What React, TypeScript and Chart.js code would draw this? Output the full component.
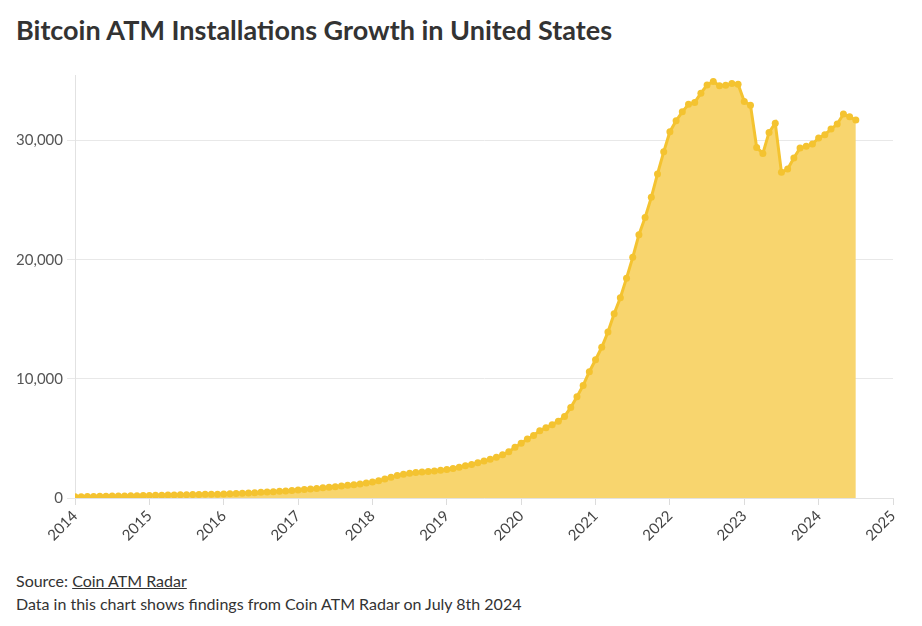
import React, { useEffect, useRef } from "react";
import { Chart, registerables } from "chart.js";

Chart.register(...registerables);

const title = "Bitcoin ATM Installations Growth in United States";
const sourceLabel = "Source: ";
const sourceLink = "Coin ATM Radar";
const note = "Data in this chart shows findings from Coin ATM Radar on July 8th 2024";

// Monthly installed Bitcoin ATMs (Jan..Dec) per year
const y2014 = [100, 110, 120, 130, 140, 150, 160, 165, 175, 185, 195, 205];
const y2015 = [215, 225, 235, 245, 255, 265, 275, 285, 295, 305, 315, 325];
const y2016 = [340, 360, 380, 400, 425, 450, 475, 500, 530, 560, 590, 630];
const y2017 = [680, 720, 760, 800, 850, 900, 950, 1000, 1060, 1120, 1180, 1260];
const y2018 = [1350, 1450, 1600, 1750, 1880, 2000, 2080, 2130, 2180, 2220, 2270, 2320];
const y2019 = [2400, 2480, 2580, 2700, 2820, 2960, 3100, 3250, 3420, 3620, 3880, 4250];
const y2020 = [4600, 4950, 5250, 5650, 5900, 6150, 6450, 6850, 7600, 8500, 9450, 10600];
const y2021 = [11600, 12650, 13930, 15470, 16800, 18450, 20200, 22100, 23550, 25230, 27200, 29050];
const y2022 = [30740, 31660, 32410, 33050, 33200, 33970, 34670, 34950, 34590, 34650, 34780, 34730];
const y2023 = [33270, 32970, 29420, 28920, 30680, 31460, 27330, 27610, 28530, 29370, 29510, 29710];
const y2024 = [30210, 30490, 30960, 31380, 32220, 31990, 31720];

const startYear = 2014;
const yearly = [y2014, y2015, y2016, y2017, y2018, y2019, y2020, y2021, y2022, y2023, y2024];
const xTickYears = [2014, 2015, 2016, 2017, 2018, 2019, 2020, 2021, 2022, 2023, 2024, 2025];
const yTicks = [0, 10000, 20000, 30000];

const FONT = "Lato, 'Open Sans', sans-serif";

export default function App() {
  const ref = useRef<HTMLCanvasElement | null>(null);

  useEffect(() => {
    if (!ref.current) return;
    const points: { x: number; y: number }[] = [];
    yearly.forEach((arr, yi) => {
      arr.forEach((v, m) => points.push({ x: startYear + yi + m / 12, y: v }));
    });
    const chart = new Chart(ref.current, {
      type: "line",
      data: {
        datasets: [
          {
            data: points,
            borderColor: "#F4C330",
            backgroundColor: "#F8D56E",
            pointBackgroundColor: "#F4C330",
            pointBorderColor: "#F4C330",
            pointRadius: 3.5,
            pointBorderWidth: 0,
            borderWidth: 3,
            fill: "origin",
            tension: 0,
          },
        ],
      },
      options: {
        responsive: false,
        animation: false,
        layout: { padding: { left: 0, right: 21, top: 15, bottom: 0 } },
        plugins: { legend: { display: false }, tooltip: { enabled: false } },
        scales: {
          x: {
            type: "linear",
            min: xTickYears[0],
            max: xTickYears[xTickYears.length - 1],
            afterBuildTicks: (scale: any) => {
              scale.ticks = xTickYears.map((v) => ({ value: v }));
            },
            afterFit: (scale: any) => {
              scale.height = 62;
            },
            ticks: {
              callback: (v: any) => String(v),
              minRotation: 45,
              maxRotation: 45,
              color: "#444",
              font: { family: FONT, size: 15 },
              padding: 2,
            },
            grid: { drawOnChartArea: false, drawTicks: true, tickLength: 7, color: "#dcdcdc" },
            border: { display: true, color: "#e2e2e2", width: 1 },
          },
          y: {
            min: 0,
            max: 35500,
            afterBuildTicks: (scale: any) => {
              scale.ticks = yTicks.map((v) => ({ value: v }));
            },
            afterFit: (scale: any) => {
              scale.width = 67;
            },
            ticks: {
              callback: (v: any) => Number(v).toLocaleString("en-US"),
              color: "#555",
              font: { family: FONT, size: 15 },
              padding: 4,
            },
            grid: { color: "#e8e8e8", tickLength: 8, drawTicks: true },
            border: { display: true, color: "#e2e2e2", width: 1 },
          },
        },
      },
    });
    return () => chart.destroy();
  }, []);

  return (
    <div style={{ fontFamily: FONT, color: "#333", background: "#fff" }}>
      <div
        style={{
          fontWeight: 700,
          fontSize: 27,
          lineHeight: "30px",
          color: "#333",
          padding: "7px 0 0 8px",
          height: 40,
          boxSizing: "border-box",
          whiteSpace: "nowrap",
        }}
      >
        {title}
      </div>
      <canvas ref={ref} width={906} height={500} style={{ display: "block", marginTop: 12 }} />
      <div style={{ paddingLeft: 8, marginTop: 9, fontSize: 16, lineHeight: "23px", color: "#333" }}>
        <div>
          {sourceLabel}
          <a href="#" style={{ color: "#333", textDecoration: "underline" }}>
            {sourceLink}
          </a>
        </div>
        <div>{note}</div>
      </div>
    </div>
  );
}
